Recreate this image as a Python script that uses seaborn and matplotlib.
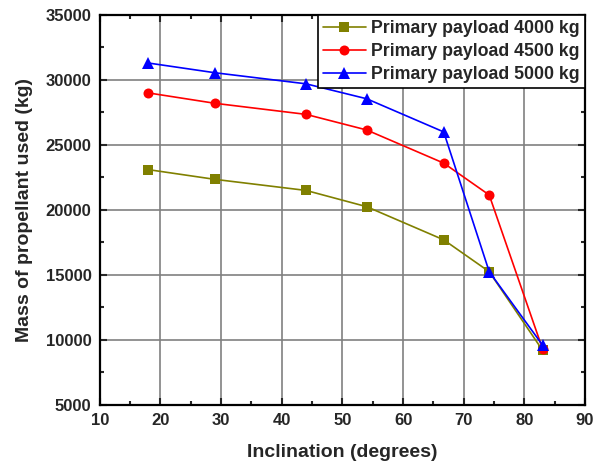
import matplotlib
matplotlib.use("Agg")
import matplotlib.pyplot as plt
import seaborn as sns
import pandas as pd
from matplotlib.ticker import MultipleLocator

inclination = [18, 29, 44, 54, 66.7, 74.2, 83]
payload_4000 = [23100, 22350, 21500, 20250, 17700, 15250, 9200]
payload_4500 = [29000, 28200, 27350, 26150, 23600, 21150, 9300]
payload_5000 = [31300, 30550, 29700, 28550, 26000, 15250, 9600]
series_names = ["Primary payload 4000 kg", "Primary payload 4500 kg", "Primary payload 5000 kg"]

rows = []
for name, vals in zip(series_names, [payload_4000, payload_4500, payload_5000]):
    for x, y in zip(inclination, vals):
        rows.append({"Inclination": x, "Mass": y, "Series": name})
df = pd.DataFrame(rows)

sns.set_style("ticks")
plt.rcParams["font.family"] = ["Liberation Sans", "DejaVu Sans"]
plt.rcParams["font.weight"] = "bold"

fig = plt.figure(figsize=(6.05, 4.66), dpi=100)
ax = fig.add_axes([0.165, 0.131, 0.802, 0.837])

colors = ["#808000", "#ff0000", "#0000ff"]
mks = ["s", "o", "^"]
msizes = [6.5, 7.2, 8.8]
palette = dict(zip(series_names, colors))
markers = dict(zip(series_names, mks))

sns.lineplot(data=df, x="Inclination", y="Mass", hue="Series", style="Series",
             palette=palette, markers=markers, dashes=False,
             markeredgewidth=0, linewidth=1.2, ax=ax, sort=False, legend=False)

handles = []
for line, ms in zip(ax.lines[:3], msizes):
    line.set_markersize(ms)
    handles.append(line)

ax.set_xlim(10, 90)
ax.set_ylim(5000, 35000)
ax.xaxis.set_major_locator(MultipleLocator(10))
ax.xaxis.set_minor_locator(MultipleLocator(5))
ax.yaxis.set_major_locator(MultipleLocator(5000))
ax.yaxis.set_minor_locator(MultipleLocator(2500))
ax.grid(True, which="major", color="#808080", linewidth=1.2)
ax.set_axisbelow(True)
ax.tick_params(which="both", direction="in", top=True, right=True, labelsize=12, width=1.5)
ax.tick_params(axis="x", pad=6)
ax.tick_params(axis="y", pad=6)
ax.tick_params(which="major", length=5)
ax.tick_params(which="minor", length=3)
for lbl in ax.get_xticklabels() + ax.get_yticklabels():
    lbl.set_fontweight("bold")
for s in ax.spines.values():
    s.set_linewidth(1.6)
    s.set_color("black")

ax.set_xlabel("Inclination (degrees)", fontsize=14, fontweight="bold", labelpad=11)
ax.set_ylabel("Mass of propellant used (kg)", fontsize=14, fontweight="bold", labelpad=9)

leg = ax.legend(handles, series_names, loc="upper right", fontsize=12.8, frameon=True, fancybox=False,
                borderaxespad=0.0, borderpad=0.3, labelspacing=0.33, handlelength=2.4,
                handletextpad=0.3, numpoints=1)
leg.get_frame().set_edgecolor("black")
leg.get_frame().set_linewidth(1.2)
leg.get_frame().set_alpha(1)
for t in leg.get_texts():
    t.set_fontweight("bold")

fig.savefig("out.png", dpi=100)
